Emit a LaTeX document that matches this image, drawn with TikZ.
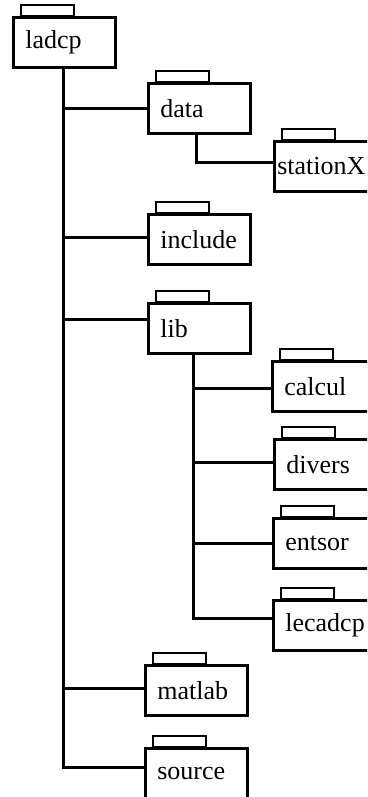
\documentclass[tikz,border=0pt]{standalone}
\usepackage{fontspec}
\setmainfont{Liberation Serif}
\usetikzlibrary{calc}

\begin{document}
\begin{tikzpicture}[x=1pt, y=-1pt,
    folder/.style={draw, line width=2.7pt, anchor=north west, minimum height=50pt, text width=78pt, inner xsep=12pt, inner ysep=0pt, align=left, font=\fontsize{26}{28}\selectfont},
    foldertab/.style={draw, line width=2.7pt},
    link/.style={line width=2.5pt}]
  \clip (0,0) rectangle (367,797);

  % folders
  \node[folder] (ladcp) at (12,16) {ladcp};
  \node[folder] (data) at (147,82) {data};
  \node[folder, inner xsep=3pt, text width=96pt] (stationX) at (273,140) {stationX};
  \node[folder] (include) at (147,213) {include};
  \node[folder] (lib) at (147,302) {lib};
  \node[folder] (calcul) at (271,360) {calcul};
  \node[folder] (divers) at (273,438) {divers};
  \node[folder] (entsor) at (272,517) {entsor};
  \node[folder] (lecadcp) at (272,599) {lecadcp};
  \node[folder] (matlab) at (144,664) {matlab};
  \node[folder] (source) at (144,747) {source};

  \foreach \f in {ladcp,data,stationX,include,lib,calcul,divers,entsor,lecadcp,matlab,source}
    \draw[foldertab] ($(\f.north west)+(9,0)$) rectangle ++(53,-11);

  % tree
  \coordinate (root) at ($(ladcp.south)+(-1,0)$);
  \draw[link] (root) |- ($(source.west)+(0,-6)$);
  \foreach \f/\dy in {data/0,include/-2,lib/-9,matlab/-2}
    \draw[link] (root |- {$(\f.west)+(0,\dy)$}) -- ($(\f.west)+(0,\dy)$);

  \draw[link] ($(data.south)+(-3,0)$) |- ($(stationX.west)+(0,-4)$);

  \coordinate (sub) at ($(lib.south)+(-6,0)$);
  \draw[link] (sub) |- ($(lecadcp.west)+(0,-7)$);
  \foreach \f/\dy in {calcul/2,divers/-2,entsor/0}
    \draw[link] (sub |- {$(\f.west)+(0,\dy)$}) -- ($(\f.west)+(0,\dy)$);
\end{tikzpicture}
\end{document}
